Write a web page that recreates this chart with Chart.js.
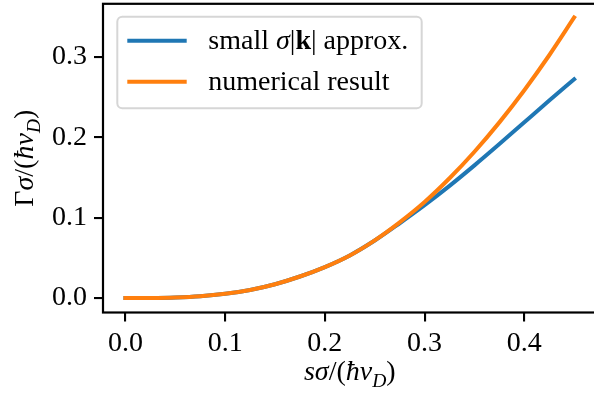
<!DOCTYPE html>
<html>
<head>
<meta charset="utf-8">
<script src="https://cdn.jsdelivr.net/npm/chart.js@4/dist/chart.umd.min.js"></script>
<style>
  html, body { margin: 0; padding: 0; overflow: hidden; background: #fff; }
  canvas { display: block; }
</style>
</head>
<body>
<canvas id="chart" width="600" height="399"></canvas>
<script>
// s·σ/(ħ v_D) sample positions
const sValues = [0, 0.025, 0.05, 0.075, 0.1, 0.125, 0.15, 0.175, 0.2, 0.225,
                 0.25, 0.275, 0.3, 0.325, 0.35, 0.375, 0.4, 0.425, 0.45];
// Γσ/(ħ v_D): small σ|k| approximation
const approxValues = [0, 0.0001, 0.0007, 0.0022, 0.0052, 0.0100, 0.0172, 0.0268, 0.0385, 0.0530,
                      0.0715, 0.0930, 0.1155, 0.1395, 0.1650, 0.1915, 0.2186, 0.2456, 0.2722];
// Γσ/(ħ v_D): full numerical result
const numericalValues = [0, 0.0001, 0.0007, 0.0022, 0.0052, 0.0100, 0.0172, 0.0268, 0.0385, 0.0530,
                         0.0718, 0.0942, 0.1195, 0.1490, 0.1820, 0.2185, 0.2585, 0.3020, 0.3490];

const xTickValues = [0, 0.1, 0.2, 0.3, 0.4];
const yTickValues = [0, 0.1, 0.2, 0.3];

// Rich-text pieces: i = italic, b = bold, sub = subscript
const approxLabel = [{t: 'small '}, {t: 'σ', i: 1}, {t: '|'}, {t: 'k', b: 1}, {t: '|'}, {t: ' approx.'}];
const numericalLabel = [{t: 'numerical result'}];
const xTitle = [{t: 's', i: 1}, {t: 'σ', i: 1}, {t: '/('}, {t: 'ħ', i: 1}, {t: 'v', i: 1}, {t: 'D', i: 1, sub: 1}, {t: ')'}];
const yTitle = [{t: 'Γ'}, {t: 'σ', i: 1}, {t: '/('}, {t: 'ħ', i: 1}, {t: 'v', i: 1}, {t: 'D', i: 1, sub: 1}, {t: ')'}];

const BLUE = '#1f77b4';
const ORANGE = '#ff7f0e';
const FAMILY = '"Liberation Serif", "Times New Roman", Times, serif';
const FS = 28;

function fontFor(seg, size) {
  return (seg.i ? 'italic ' : '') + (seg.b ? 'bold ' : '') + size + 'px ' + FAMILY;
}

function richWidth(ctx, segs, size) {
  let w = 0;
  for (const s of segs) {
    ctx.font = fontFor(s, s.sub ? size * 0.7 : size);
    w += ctx.measureText(s.t).width;
  }
  return w;
}

function drawRich(ctx, segs, size, x, baseline, align) {
  const total = richWidth(ctx, segs, size);
  let cx = align === 'center' ? x - total / 2 : x;
  ctx.textAlign = 'left';
  ctx.textBaseline = 'alphabetic';
  for (const s of segs) {
    const sz = s.sub ? size * 0.7 : size;
    ctx.font = fontFor(s, sz);
    ctx.fillText(s.t, cx, baseline + (s.sub ? size * 0.24 : 0));
    cx += ctx.measureText(s.t).width;
  }
}

const decorations = {
  id: 'decorations',
  afterDraw(chart) {
    const ctx = chart.ctx;
    const a = chart.chartArea;
    ctx.save();

    // axes frame
    ctx.strokeStyle = '#000';
    ctx.lineWidth = 2.2;
    ctx.strokeRect(a.left, a.top, a.right - a.left, a.bottom - a.top);

    // legend
    const box = {x: 117.3, y: 16.7, w: 304.4, h: 91.6};
    ctx.beginPath();
    ctx.roundRect(box.x, box.y, box.w, box.h, 5);
    ctx.fillStyle = 'rgba(255,255,255,0.8)';
    ctx.fill();
    ctx.strokeStyle = 'rgba(204,204,204,0.8)';
    ctx.lineWidth = 2;
    ctx.stroke();

    const entries = [
      {label: approxLabel, color: chart.data.datasets[0].borderColor, y: 40.7},
      {label: numericalLabel, color: chart.data.datasets[1].borderColor, y: 81.7}
    ];
    ctx.fillStyle = '#000';
    for (const e of entries) {
      ctx.beginPath();
      ctx.moveTo(127.3, e.y);
      ctx.lineTo(186.7, e.y);
      ctx.strokeStyle = e.color;
      ctx.lineWidth = 4;
      ctx.lineCap = 'butt';
      ctx.stroke();
      drawRich(ctx, e.label, FS, 208.3, e.y + 8, 'left');
    }

    // axis titles
    ctx.fillStyle = '#000';
    drawRich(ctx, xTitle, FS, (a.left + a.right) / 2, 380, 'center');
    ctx.translate(33, (a.top + a.bottom) / 2);
    ctx.rotate(-Math.PI / 2);
    drawRich(ctx, yTitle, FS, 0, 0, 'center');

    ctx.restore();
  }
};

const toPoints = (ys) => sValues.map((x, i) => ({x: x, y: ys[i]}));

// keep the plot frame where the layout padding puts it
function noEdgePadding(s) {
  s.paddingTop = 0; s.paddingBottom = 0; s.paddingLeft = 0; s.paddingRight = 0;
}

const tickFont = {family: FAMILY, size: FS};
const gridOpts = {
  drawOnChartArea: false,
  drawTicks: true,
  tickLength: 9,
  tickWidth: 2.1,
  tickColor: '#000',
  color: '#000',
  lineWidth: 2.1
};

new Chart(document.getElementById('chart'), {
  type: 'line',
  data: {
    datasets: [
      {
        label: 'small σ|k| approx.',
        data: toPoints(approxValues),
        borderColor: BLUE,
        borderWidth: 4,
        pointRadius: 0,
        fill: false,
        cubicInterpolationMode: 'monotone',
        borderCapStyle: 'square',
        borderJoinStyle: 'round',
        order: 1
      },
      {
        label: 'numerical result',
        data: toPoints(numericalValues),
        borderColor: ORANGE,
        borderWidth: 4,
        pointRadius: 0,
        fill: false,
        cubicInterpolationMode: 'monotone',
        borderCapStyle: 'square',
        borderJoinStyle: 'round',
        order: 0
      }
    ]
  },
  options: {
    responsive: false,
    animation: false,
    events: [],
    layout: {padding: {left: 0, top: 3.8, right: 3.4, bottom: 0}},
    plugins: {legend: {display: false}, tooltip: {enabled: false}},
    scales: {
      x: {
        type: 'linear',
        min: -0.0225,
        max: 0.4725,
        afterBuildTicks: (s) => { s.ticks = xTickValues.map(v => ({value: v})); },
        afterFit: (s) => { s.height = 86.5; noEdgePadding(s); },
        ticks: {
          font: tickFont,
          color: '#000',
          padding: 5,
          maxRotation: 0,
          autoSkip: false,
          callback: (v) => Number(v).toFixed(1)
        },
        grid: gridOpts,
        border: {display: false}
      },
      y: {
        type: 'linear',
        min: -0.018,
        max: 0.366,
        afterBuildTicks: (s) => { s.ticks = yTickValues.map(v => ({value: v})); },
        afterFit: (s) => { s.width = 103; noEdgePadding(s); },
        ticks: {
          font: tickFont,
          color: '#000',
          padding: 7,
          autoSkip: false,
          callback: (v) => Number(v).toFixed(1)
        },
        grid: gridOpts,
        border: {display: false}
      }
    }
  },
  plugins: [decorations]
});
</script>
</body>
</html>
